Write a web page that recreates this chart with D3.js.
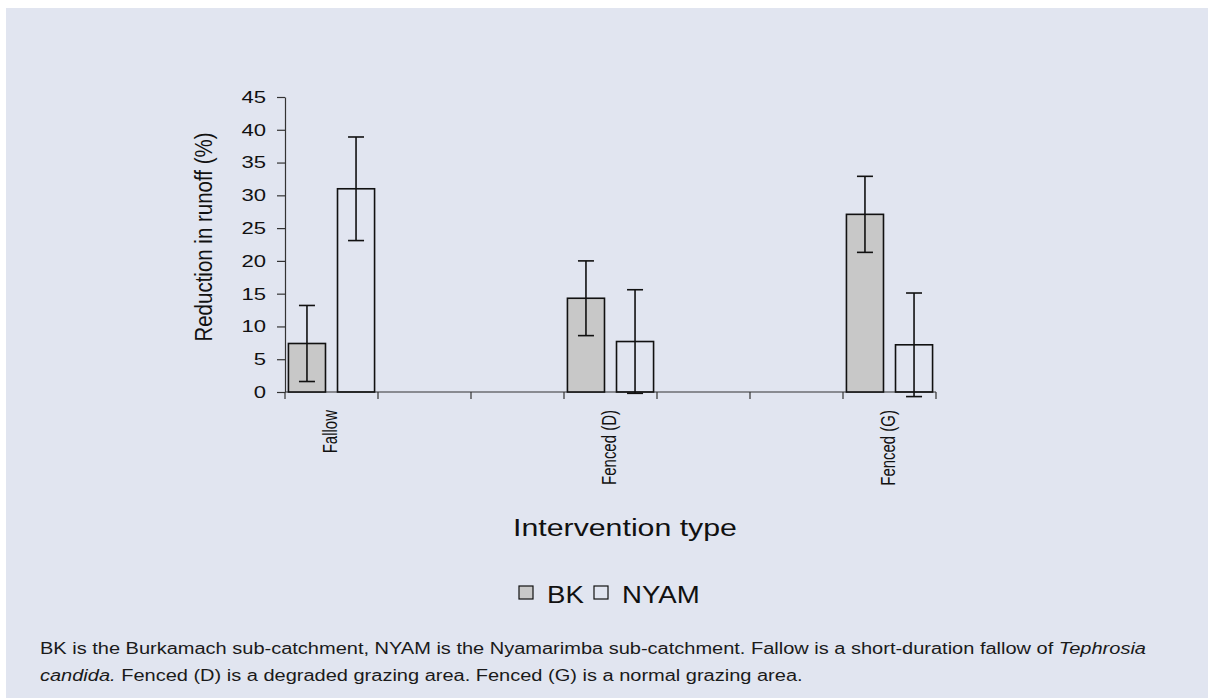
<!DOCTYPE html>
<html>
<head>
<meta charset="utf-8">
<script src="https://cdn.jsdelivr.net/npm/d3@7"></script>
<style>
  body { margin: 0; background: #fff; }
  svg { display: block; font-family: "Liberation Sans", Arial, sans-serif; }
</style>
</head>
<body>
<svg id="chart" width="1208" height="698"></svg>
<script>
// data
const slots = ["s0", "s1", "s2", "s3", "s4", "s5", "s6"];   // category axis has 7 slots
const categories = ["Fallow", "Fenced (D)", "Fenced (G)"];
const catSlot = ["s0", "s3", "s6"];
const series = ["BK", "NYAM"];
const bkValues = [7.4, 14.3, 27.1];
const bkErrors = [5.8, 5.7, 5.8];
const nyamValues = [31.0, 7.7, 7.2];
const nyamErrors = [7.9, 7.9, 7.9];
const yTicks = [0, 5, 10, 15, 20, 25, 30, 35, 40, 45];
const caption1 = ["BK is the Burkamach sub-catchment, NYAM is the Nyamarimba sub-catchment. Fallow is a short-duration fallow of ", "Tephrosia"];
const caption2 = ["candida.", " Fenced (D) is a degraded grazing area. Fenced (G) is a normal grazing area."];

const stretch = 1.3; // the figure's text is widened horizontally
const svg = d3.select("#chart");

svg.append("rect")
    .attr("x", 6).attr("y", 8)
    .attr("width", 1202).attr("height", 690)
    .attr("fill", "#e1e5f0");

const x = d3.scaleBand().domain(slots).range([285, 936]);
const xs = d3.scaleBand().domain(series).range([0, x.bandwidth()])
    .paddingInner(0.245).paddingOuter(0.07);
const y = d3.scaleLinear().domain([0, 45]).range([392, 97]);
const colour = d3.scaleOrdinal().domain(series).range(["#c8c8c8", "none"]);

// y axis
const yAxis = svg.append("g")
    .attr("transform", "translate(285,0)")
    .call(d3.axisLeft(y).tickValues(yTicks).tickSize(8).tickSizeOuter(0).tickPadding(10));
yAxis.selectAll("path, line").attr("stroke", "#333").attr("stroke-width", 1.2);
yAxis.selectAll("text")
    .attr("font-size", 17).attr("fill", "#111")
    .attr("font-family", "Liberation Sans, Arial, sans-serif")
    .attr("transform", `scale(${stretch},1)`)
    .attr("x", -19 / stretch);

// x axis: ticks on slot boundaries
const xAxisG = svg.append("g").attr("transform", "translate(0,392)");
xAxisG.append("line")
    .attr("x1", x.range()[0]).attr("x2", x.range()[1])
    .attr("stroke", "#333").attr("stroke-width", 1.2);
const bounds = slots.map(s => x(s)).concat([x.range()[1]]);
xAxisG.selectAll(".tk").data(bounds).join("line")
    .attr("x1", d => d).attr("x2", d => d)
    .attr("y1", 0).attr("y2", 7)
    .attr("stroke", "#333").attr("stroke-width", 1.2);
xAxisG.selectAll(".lab").data(categories).join("text")
    .attr("transform", (d, i) => `translate(${x(catSlot[i]) + x.bandwidth() / 2 + 5},18) scale(${stretch},1) rotate(-90)`)
    .attr("text-anchor", "end")
    .attr("font-size", 15)
    .attr("fill", "#111")
    .text(d => d);

// bars
const rows = categories.map((c, i) => ({
  slot: catSlot[i],
  vals: [
    {s: "BK", v: bkValues[i], e: bkErrors[i]},
    {s: "NYAM", v: nyamValues[i], e: nyamErrors[i]}
  ]
}));

const grp = svg.selectAll(".grp").data(rows).join("g")
    .attr("transform", d => `translate(${x(d.slot)},0)`);

grp.selectAll("rect").data(d => d.vals).join("rect")
    .attr("x", d => xs(d.s))
    .attr("y", d => y(d.v))
    .attr("width", xs.bandwidth())
    .attr("height", d => y(0) - y(d.v))
    .attr("fill", d => colour(d.s))
    .attr("stroke", "#111")
    .attr("stroke-width", 1.6);

// error bars
const eb = grp.selectAll(".eb").data(d => d.vals).join("g")
    .attr("transform", d => `translate(${xs(d.s) + xs.bandwidth() / 2},0)`)
    .attr("stroke", "#111").attr("stroke-width", 1.6);
eb.append("line").attr("y1", d => y(d.v + d.e)).attr("y2", d => y(d.v - d.e));
eb.append("line").attr("x1", -8).attr("x2", 8).attr("y1", d => y(d.v + d.e)).attr("y2", d => y(d.v + d.e));
eb.append("line").attr("x1", -8).attr("x2", 8).attr("y1", d => y(d.v - d.e)).attr("y2", d => y(d.v - d.e));

// axis titles
svg.append("text")
    .attr("transform", `translate(212,237) scale(1.15,1) rotate(-90)`)
    .attr("text-anchor", "middle")
    .attr("font-size", 20.5).attr("fill", "#111")
    .text("Reduction in runoff (%)");

svg.append("text")
    .attr("transform", `translate(625,536) scale(${stretch},1)`)
    .attr("text-anchor", "middle")
    .attr("font-size", 23.3).attr("fill", "#111")
    .text("Intervention type");

// legend
const leg = svg.append("g").attr("transform", "translate(519,586)");
const legX = d3.scaleOrdinal().domain(series).range([0, 75]);
const li = leg.selectAll("g").data(series).join("g")
    .attr("transform", d => `translate(${legX(d)},0)`);
li.append("rect")
    .attr("width", 14).attr("height", 13)
    .attr("fill", d => colour(d))
    .attr("stroke", "#111").attr("stroke-width", 1.2);
li.append("text")
    .attr("transform", `translate(28,17) scale(1.2,1)`)
    .attr("font-size", 23).attr("fill", "#111")
    .text(d => d);

// caption
const cap = svg.append("g").attr("font-size", 16).attr("fill", "#1a1a1a");
const t1 = cap.append("text").attr("transform", "translate(40,654) scale(1.25,1)");
t1.append("tspan").text(caption1[0]);
t1.append("tspan").attr("font-style", "italic").text(caption1[1]);
const t2 = cap.append("text").attr("transform", "translate(40,681) scale(1.25,1)");
t2.append("tspan").attr("font-style", "italic").text(caption2[0]);
t2.append("tspan").text(caption2[1]);
</script>
</body>
</html>
